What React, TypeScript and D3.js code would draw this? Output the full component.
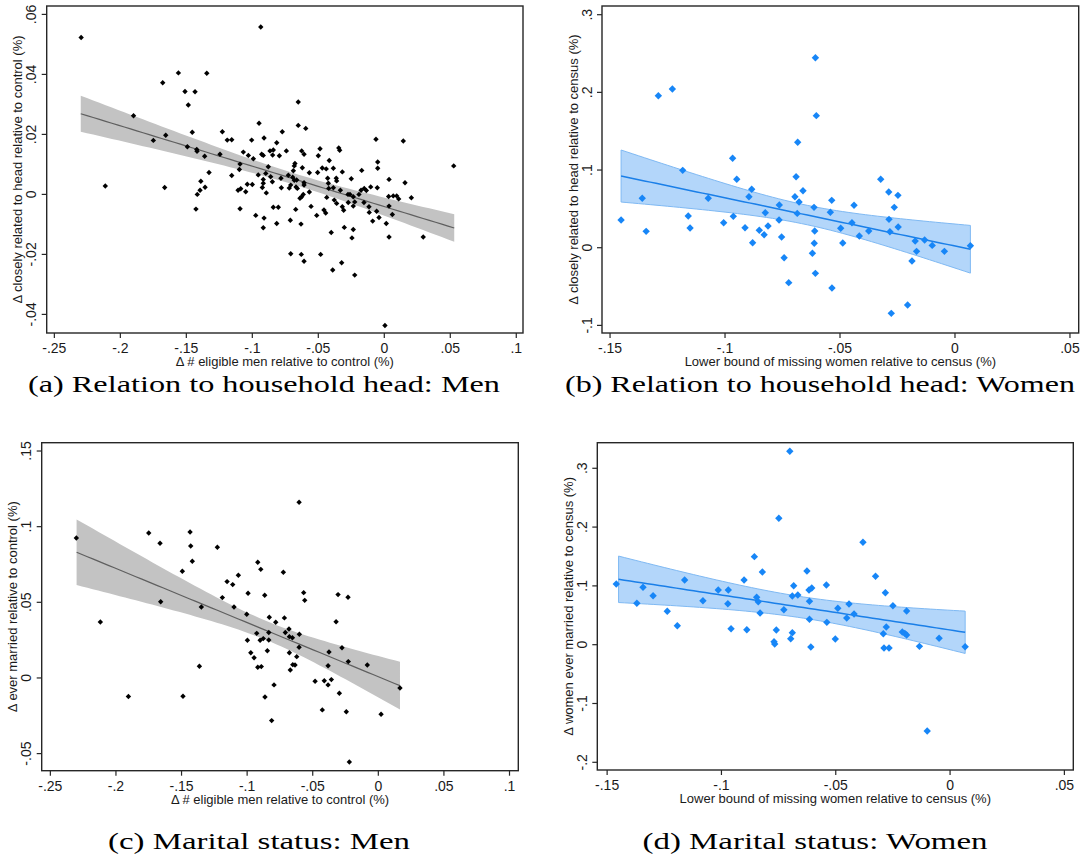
import React from 'react';
import * as d3 from 'd3';

// ---------- DATA ----------
const menHeadPts: [number, number][] = [
  [-0.2297,0.0523],[-0.0936,0.0558],[-0.156,0.0405],[-0.1345,0.0404],[-0.1679,0.0372],[-0.151,0.0343],[-0.1434,0.0342],[-0.1485,0.0298],[-0.19,0.0262],[-0.0949,0.0237],[-0.1455,0.0207],[-0.1227,0.0209],[-0.1656,0.0197],[-0.175,0.018],[-0.119,0.0181],[-0.1156,0.0182],[-0.1005,0.0181],[-0.0911,0.0188],[-0.1492,0.0159],[-0.1421,0.015],[-0.1419,0.0144],[-0.1361,0.0127],[-0.1245,0.0134],[-0.1068,0.0141],[-0.103,0.013],[-0.0992,0.0119],[-0.0929,0.0134],[-0.0917,0.013],[-0.0841,0.0148],[-0.0815,0.0172],[-0.1093,0.0101],[-0.1098,0.0083],[-0.1156,0.0063],[-0.1328,0.0073],[-0.0955,0.0065],[-0.0879,0.0092],[-0.0861,0.0059],[-0.0898,0.007],[-0.0848,0.0042],[-0.0917,0.005],[-0.139,0.0044],[-0.1396,0.0014],[-0.1417,0.0],[-0.1358,0.0024],[-0.1108,0.0014],[-0.1088,0.0019],[-0.105,0.0009],[-0.1038,0.0034],[-0.1,0.0033],[-0.0924,0.0023],[-0.0917,0.0037],[-0.0894,0.0005],[-0.2114,0.0028],[-0.1664,0.0023],[-0.1427,-0.0049],[-0.1093,-0.0048],[-0.0974,-0.007],[-0.0911,-0.0079],[-0.0917,-0.0111],[-0.0815,-0.0097],[-0.0841,-0.0043],[-0.0803,-0.0043],
  [-0.0866,0.0145],[-0.0846,0.0131],
  [-0.0652,0.0308],[-0.0652,0.023],[-0.0595,0.022],[-0.0773,0.0209],[-0.0742,0.0145],[-0.0626,0.0145],[-0.0608,0.0134],[-0.0795,0.0129],[-0.0677,0.0103],[-0.0682,0.0095],[-0.0689,0.0079],[-0.0621,0.0089],[-0.0568,0.0072],[-0.0505,0.0073],[-0.05,0.0129],[-0.0487,0.0152],[-0.047,0.0088],[-0.044,0.0085],[-0.0417,0.0113],[-0.0386,0.0087],[-0.0345,0.0155],[-0.0338,0.0147],[-0.0318,0.0075],[-0.0429,0.0054],[-0.0364,0.0054],[-0.0361,0.0045],[-0.0424,0.0037],[-0.025,0.0052],[-0.0171,0.008],[-0.0063,0.0184],[-0.005,0.0108],[-0.005,0.0087],[-0.0727,0.0064],[-0.0694,0.0057],[-0.0682,0.0047],[-0.0664,0.0048],[-0.0608,0.0039],[-0.0608,0.0031],[-0.0783,0.0054],[-0.078,0.0022],[-0.072,0.0021],[-0.0709,0.0031],[-0.0669,0.0025],[-0.0659,0.002],[-0.0568,0.0008],[-0.0614,0.0],[-0.0626,-0.0008],[-0.0639,-0.0013],[-0.0436,-0.001],[-0.0421,0.002],[-0.0386,0.0022],[-0.0333,0.0014],[-0.0275,0.0],[-0.026,0.0],[-0.0235,-0.0008],[-0.0192,0.0],[-0.0152,0.002],[-0.0136,0.0013],[-0.0103,0.0025],[-0.0379,-0.0019],[-0.0361,-0.003],[-0.0318,-0.0041],[-0.0308,-0.0053],[-0.0273,-0.0027],[-0.0235,-0.0039],[-0.0224,-0.0025],[-0.0154,-0.0027],[-0.0116,-0.0041],[-0.0114,-0.006],[-0.0088,-0.0089],[-0.0058,-0.0056],[-0.004,-0.0077],[-0.0555,-0.004],[-0.0512,-0.007],[-0.0457,-0.0052],[-0.0444,-0.0062],[-0.0402,-0.0127],[-0.0303,-0.011],[-0.0245,-0.0145],[-0.0235,-0.0117],[-0.0712,-0.0086],[-0.0631,-0.0099],[-0.0671,-0.005],[-0.0709,-0.0198],[-0.0629,-0.02],[-0.0608,-0.0223],[-0.0482,-0.02],[-0.0391,-0.0252],[-0.0323,-0.0228],[-0.0224,-0.0269],[-0.0176,0.0014],
  [0.0144,0.0178],[0.0036,0.005],[0.0157,0.0039],[0.0033,-0.0007],[0.0068,-0.0005],[0.0094,-0.0005],[0.0109,-0.0015],[0.0205,-0.0011],[0.0036,-0.0039],[0.0061,-0.0067],[0.0015,-0.0097],[0.0036,-0.0142],[0.0295,-0.0142],[0.0526,0.0095],[0.0005,-0.0437],[-0.0053,0.0022],
];

const womenHeadPts: [number, number][] = [
  [-0.1452,0.0357],[-0.136,0.0636],[-0.1343,0.0211],[-0.129,0.1957],[-0.1229,0.2043],[-0.1184,0.0996],[-0.116,0.0408],[-0.1152,0.0254],[-0.1073,0.0636],[-0.1006,0.0322],[-0.0967,0.1151],[-0.0964,0.0404],[-0.0949,0.0881],[-0.0913,0.0258],[-0.0884,0.0752],[-0.0896,0.0657],[-0.088,0.0064],[-0.0851,0.0224],[-0.083,0.0167],[-0.0825,0.0451],[-0.0813,0.0279],[-0.0764,0.055],[-0.0765,0.0357],[-0.0754,0.0138],[-0.0743,-0.0129],[-0.0723,-0.045],[-0.0696,0.0657],[-0.0691,0.0914],[-0.0684,0.1357],[-0.0678,0.0588],[-0.0686,0.0442],[-0.0661,0.0734],[-0.0607,0.2446],[-0.0603,0.17],[-0.0613,0.052],[-0.061,0.0215],[-0.0612,0.0057],[-0.062,-0.0072],[-0.0607,-0.033],
  [-0.0536,0.061],[-0.0542,0.0456],[-0.0497,0.025],[-0.0488,0.006],[-0.0535,-0.0519],[-0.0439,0.0546],[-0.0448,0.0322],[-0.0416,0.015],[-0.0375,0.0215],[-0.0323,0.0881],[-0.0288,0.0717],[-0.0248,0.0674],[-0.0264,0.052],[-0.0287,0.0365],[-0.0283,0.0206],[-0.0247,0.0266],[-0.0277,-0.0845],[-0.0206,-0.0738],[-0.0187,-0.0171],[-0.0167,-0.0047],[-0.0173,0.0086],[-0.0132,0.0099],[-0.0099,0.003],[-0.0046,-0.0047],[0.0067,0.0026],
];

const menMarPts: [number, number][] = [
  [-0.2302,0.0925],[-0.2119,0.037],[-0.1905,-0.0123],[-0.175,0.0958],[-0.1664,0.089],[-0.1659,0.0504],[-0.1494,0.0705],[-0.1489,-0.0121],[-0.1435,0.0965],[-0.143,0.0872],[-0.1418,0.0771],[-0.1364,0.0077],[-0.1349,0.0469],[-0.1227,0.0864],[-0.1189,0.0531],[-0.1153,0.0637],[-0.111,0.0617],[-0.11,0.0469],[-0.1067,0.0679],[-0.1003,0.0421],[-0.0993,0.056],[-0.0998,0.0249],[-0.0972,0.0167],[-0.0947,0.0134],[-0.0927,0.0295],[-0.0919,0.0765],[-0.0919,0.0071],[-0.0896,0.0718],[-0.0901,0.0249],[-0.0892,0.0075],[-0.0877,0.026],[-0.0866,0.0547],[-0.0864,-0.0126],[-0.0846,0.018],[-0.0835,0.03],[-0.0831,0.0401],[-0.0835,0.0251],[-0.0813,-0.0282],[-0.0795,-0.0046],[-0.0782,0.0368],
  [-0.0724,0.0699],[-0.0716,0.0397],[-0.0709,0.03],[-0.0681,0.0324],[-0.0678,0.0273],[-0.0655,0.0266],[-0.0602,0.0289],[-0.0604,0.0203],[-0.0678,0.0167],[-0.0622,0.0141],[-0.0652,0.0088],[-0.0635,0.0086],[-0.0671,0.0053],[-0.0604,0.1161],[-0.0569,0.0564],[-0.0561,0.0513],[-0.0482,-0.0022],[-0.0427,-0.0211],[-0.0412,-0.0018],[-0.0383,-0.0046],[-0.0358,-0.0011],[-0.0376,0.0172],[-0.0383,0.0081],[-0.0322,0.0372],[-0.0307,0.0551],[-0.0297,-0.0101],[-0.0277,0.02],[-0.0231,0.0533],[-0.0229,0.0108],[-0.0244,-0.0223],[-0.0221,-0.0555],[-0.0084,0.0086],[0.0021,-0.024],[0.0165,-0.0066],
];

const womenMarPts: [number, number][] = [
  [-0.146,0.1032],[-0.137,0.0704],[-0.1343,0.0976],[-0.1299,0.0833],[-0.1237,0.0568],[-0.1193,0.0323],[-0.1161,0.11],[-0.1081,0.0748],[-0.1014,0.093],[-0.0972,0.0697],[-0.097,0.093],[-0.0958,0.0272],[-0.0901,0.11],[-0.0889,0.0255],[-0.0856,0.1497],[-0.0846,0.0806],[-0.0839,0.0731],[-0.0831,0.0539],[-0.0821,0.1236],[-0.077,0.0051],[-0.0767,0.0012],[-0.076,0.025],[-0.0749,0.2149],[-0.0727,0.0595],[-0.0697,0.0102],[-0.069,0.0204],[-0.069,0.0828],[-0.0684,0.1003],[-0.0666,0.0845],[-0.0626,0.1253],[-0.0617,0.093],[-0.0605,0.0964],[-0.0615,0.0738],[-0.0615,0.0432],[-0.0609,-0.0039],[-0.0701,0.329],
  [-0.0541,0.1015],[-0.0539,0.038],[-0.0502,0.0097],[-0.0491,0.0619],[-0.0452,0.0454],[-0.0442,0.0692],[-0.042,0.0522],[-0.0381,0.1741],[-0.0326,0.1163],[-0.0283,0.0884],[-0.0279,0.0301],[-0.0292,0.0187],[-0.0289,-0.0056],[-0.0267,-0.0056],[-0.025,0.0663],[-0.0209,0.0216],[-0.0198,0.0193],[-0.019,0.0165],[-0.019,0.0573],[-0.0134,-0.0028],[-0.01,-0.1468],[-0.0048,0.0109],[0.0066,-0.0034],
];

// fitted line: [xStart, yStart, xEnd, yEnd]; band half-widths: [left, minimum, right]
const menHeadFit = [-0.23, 0.0269, 0.053, -0.0112];
const menHeadBand = [0.006, 0.0019, 0.0046];
const womenHeadFit = [-0.1452, 0.0923, 0.0067, -0.002];
const womenHeadBand = [0.0335, 0.0125, 0.0307];
const menMarFit = [-0.23, 0.0831, 0.0165, -0.0051];
const menMarBand = [0.0217, 0.0063, 0.0158];
const womenMarFit = [-0.145, 0.1112, 0.0066, 0.0211];
const womenMarBand = [0.0395, 0.018, 0.036];

const menXTicks = [-0.25, -0.2, -0.15, -0.1, -0.05, 0, 0.05, 0.1];
const womenXTicks = [-0.15, -0.1, -0.05, 0, 0.05];
const menHeadYTicks = [-0.04, -0.02, 0, 0.02, 0.04, 0.06];
const womenHeadYTicks = [-0.1, 0, 0.1, 0.2, 0.3];
const menMarYTicks = [-0.05, 0, 0.05, 0.1, 0.15];
const womenMarYTicks = [-0.2, -0.1, 0, 0.1, 0.2, 0.3];

const xTitles = [
  'Δ # eligible men relative to control (%)',
  'Lower bound of missing women relative to census (%)',
];
const yTitles = [
  'Δ closely related to head relative to control (%)',
  'Δ closely related to head relative to census (%)',
  'Δ ever married relative to control (%)',
  'Δ women ever married relative to census (%)',
];
const captions = [
  '(a) Relation to household head: Men',
  '(b) Relation to household head: Women',
  '(c) Marital status: Men',
  '(d) Marital status: Women',
];

// ---------- LAYOUT ----------
type Panel = {
  pts: [number, number][];
  fit: number[];
  band: number[];
  xTicks: number[];
  yTicks: number[];
  xTitle: string;
  yTitle: string;
  caption: string;
  frame: [number, number, number, number]; // left, top, right, bottom
  xDom: [number, number];
  yDom: [number, number];
  blue: boolean;
  cap: [number, number, number]; // center x, baseline y, width
};

const panels: Panel[] = [
  {
    pts: menHeadPts, fit: menHeadFit, band: menHeadBand, xTicks: menXTicks, yTicks: menHeadYTicks,
    xTitle: xTitles[0], yTitle: yTitles[0], caption: captions[0],
    frame: [46.7, 6, 523, 333], xDom: [-0.2558, 0.1051], yDom: [-0.0462, 0.0628], blue: false,
    cap: [264, 392, 472],
  },
  {
    pts: womenHeadPts, fit: womenHeadFit, band: womenHeadBand, xTicks: womenXTicks, yTicks: womenHeadYTicks,
    xTitle: xTitles[1], yTitle: yTitles[1], caption: captions[1],
    frame: [602, 6, 1078.7, 333], xDom: [-0.1535, 0.0538], yDom: [-0.1098, 0.3112], blue: true,
    cap: [820, 392, 510],
  },
  {
    pts: menMarPts, fit: menMarFit, band: menMarBand, xTicks: menXTicks, yTicks: menMarYTicks,
    xTitle: xTitles[0], yTitle: yTitles[2], caption: captions[2],
    frame: [41.7, 442.7, 518.3, 770.7], xDom: [-0.2566, 0.1067], yDom: [-0.0613, 0.1555], blue: false,
    cap: [259, 849, 302],
  },
  {
    pts: womenMarPts, fit: womenMarFit, band: womenMarBand, xTicks: womenXTicks, yTicks: womenMarYTicks,
    xTitle: xTitles[1], yTitle: yTitles[3], caption: captions[3],
    frame: [597.3, 442.7, 1073.3, 770], xDom: [-0.1543, 0.0539], yDom: [-0.2131, 0.3435], blue: true,
    cap: [815, 849, 345],
  },
];

const fmt = (v: number) => {
  if (Math.abs(v) < 1e-9) return '0';
  let s = String(+v.toFixed(4));
  s = s.replace(/^(-?)0\./, '$1.');
  return s;
};

const SANS = '"Liberation Sans", Arial, Helvetica, sans-serif';
const SERIF = '"Liberation Serif", "Times New Roman", serif';

function PanelView({ p }: { p: Panel }) {
  const [L, T, R, B] = p.frame;
  const x = d3.scaleLinear().domain(p.xDom).range([L, R]);
  const y = d3.scaleLinear().domain(p.yDom).range([B, T]);
  const [x0, y0, x1, y1] = p.fit;
  const [hL, hMin, hR] = p.band;
  const a = Math.sqrt(Math.max(hL * hL - hMin * hMin, 1e-12));
  const b = Math.sqrt(Math.max(hR * hR - hMin * hMin, 1e-12));
  const xc = (a * x1 + b * x0) / (a + b);
  const k = ((a + b) / (x1 - x0)) ** 2;
  const lineAt = (v: number) => y0 + ((y1 - y0) * (v - x0)) / (x1 - x0);
  const hw = (v: number) => Math.sqrt(hMin * hMin + k * (v - xc) * (v - xc));
  const samples = d3.range(0, 61).map((i) => x0 + ((x1 - x0) * i) / 60);
  const area = d3
    .area<number>()
    .x((v) => x(v))
    .y0((v) => y(lineAt(v) - hw(v)))
    .y1((v) => y(lineAt(v) + hw(v)));
  const upper = d3.line<number>().x((v) => x(v)).y((v) => y(lineAt(v) + hw(v)));
  const lower = d3.line<number>().x((v) => x(v)).y((v) => y(lineAt(v) - hw(v)));
  const fitLine = d3.line<number>().x((v) => x(v)).y((v) => y(lineAt(v)));

  const bandFill = p.blue ? '#b3d6fa' : '#c3c3c3';
  const lineCol = p.blue ? '#1a7fe8' : '#5f5f5f';
  const markCol = p.blue ? '#1786f7' : '#000000';
  const r = p.blue ? 3.7 : 2.7;
  const diamond = (cx: number, cy: number) =>
    `M${cx},${cy - r}L${cx + r},${cy}L${cx},${cy + r}L${cx - r},${cy}Z`;
  const frameCol = '#262626';

  return (
    <g>
      <path d={area(samples) || ''} fill={bandFill} stroke="none" />
      {p.blue && (
        <>
          <path d={upper(samples) || ''} fill="none" stroke="#7fb9f3" strokeWidth={1} />
          <path d={lower(samples) || ''} fill="none" stroke="#7fb9f3" strokeWidth={1} />
          <line x1={x(x1)} x2={x(x1)} y1={y(lineAt(x1) + hw(x1))} y2={y(lineAt(x1) - hw(x1))} stroke="#7fb9f3" strokeWidth={1} />
          <line x1={x(x0)} x2={x(x0)} y1={y(lineAt(x0) + hw(x0))} y2={y(lineAt(x0) - hw(x0))} stroke="#7fb9f3" strokeWidth={1} />
        </>
      )}
      <path d={fitLine(samples) || ''} fill="none" stroke={lineCol} strokeWidth={p.blue ? 1.5 : 1.2} />
      {p.pts.map(([px, py], i) => (
        <path key={i} d={diamond(x(px), y(py))} fill={markCol} />
      ))}
      <rect x={L} y={T} width={R - L} height={B - T} fill="none" stroke={frameCol} strokeWidth={1.4} />
      {p.xTicks.map((t) => (
        <g key={'x' + t}>
          <line x1={x(t)} x2={x(t)} y1={B} y2={B + 5} stroke={frameCol} strokeWidth={1.2} />
          <text x={x(t)} y={B + 20} textAnchor="middle" fontFamily={SANS} fontSize={14} fill="#1a1a1a">
            {fmt(t)}
          </text>
        </g>
      ))}
      {p.yTicks.map((t) => (
        <g key={'y' + t}>
          <line x1={L - 5} x2={L} y1={y(t)} y2={y(t)} stroke={frameCol} strokeWidth={1.2} />
          <text
            transform={`translate(${L - 10.5},${y(t)}) rotate(-90)`}
            textAnchor="middle"
            fontFamily={SANS}
            fontSize={14}
            fill="#1a1a1a"
          >
            {fmt(t)}
          </text>
        </g>
      ))}
      <text x={(L + R) / 2} y={B + 33} textAnchor="middle" fontFamily={SANS} fontSize={13} fill="#1a1a1a">
        {p.xTitle}
      </text>
      <text
        transform={`translate(${L - 24.5},${(T + B) / 2}) rotate(-90)`}
        textAnchor="middle"
        fontFamily={SANS}
        fontSize={13}
        fill="#1a1a1a"
      >
        {p.yTitle}
      </text>
      <text
        x={p.cap[0]}
        y={p.cap[1]}
        textAnchor="middle"
        fontFamily={SERIF}
        fontSize={24}
        fill="#000"
        textLength={p.cap[2]}
        lengthAdjust="spacingAndGlyphs"
      >
        {p.caption}
      </text>
    </g>
  );
}

export default function App() {
  return (
    <svg
      width={1081}
      height={858}
      viewBox="0 0 1081 858"
      style={{ position: 'absolute', left: 0, top: 0, background: '#fff' }}
    >
      <rect x={0} y={0} width={1081} height={858} fill="#fff" />
      {panels.map((p, i) => (
        <PanelView key={i} p={p} />
      ))}
    </svg>
  );
}
